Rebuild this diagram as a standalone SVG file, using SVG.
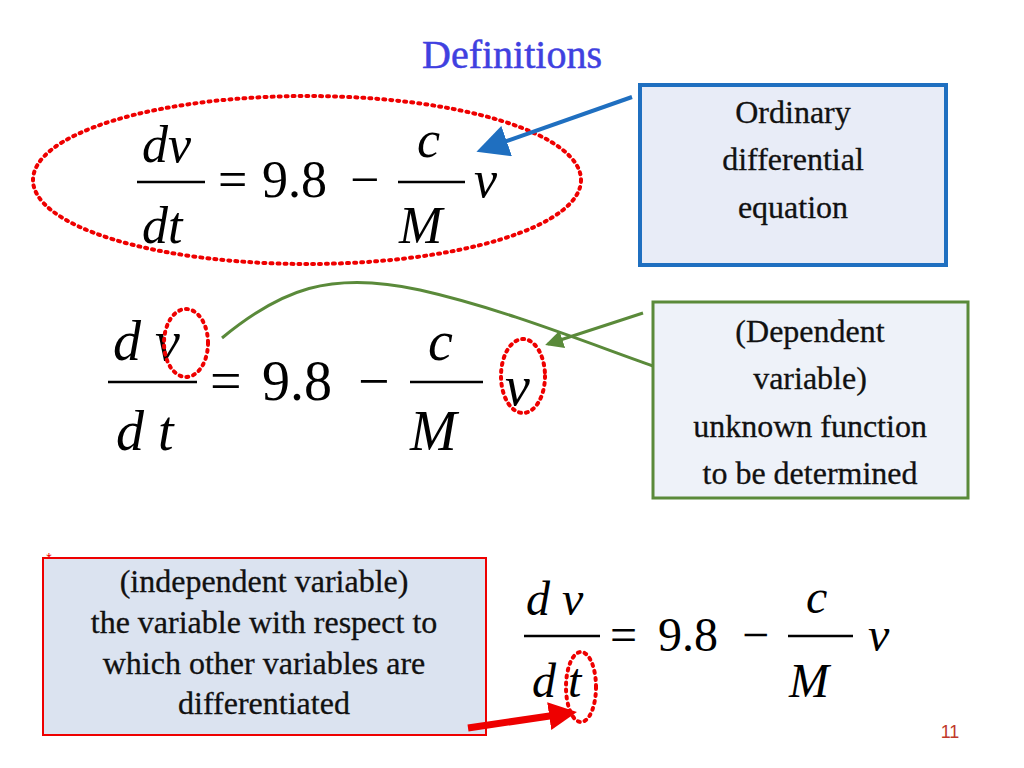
<svg xmlns="http://www.w3.org/2000/svg" width="1024" height="768" viewBox="0 0 1024 768">
<defs>
<style>
.m{font-family:"Liberation Serif",serif;font-style:italic;fill:#000}
.n{font-family:"Liberation Serif",serif;fill:#000}
.t{font-family:"Liberation Serif",serif;font-size:32px;fill:#111;text-anchor:middle;stroke:#111;stroke-width:0.3}
.dot{fill:none;stroke:#e00;stroke-width:4;stroke-dasharray:2 5;stroke-linecap:round}
.fl{stroke:#000;stroke-width:2.5}
</style>
<marker id="ab" markerWidth="8" markerHeight="8" refX="6" refY="4" orient="auto" markerUnits="strokeWidth"><path d="M0,0 L8,4 L0,8 Z" fill="#1f6fc0"/></marker>
<marker id="ag" markerWidth="6" markerHeight="6" refX="5" refY="3" orient="auto" markerUnits="strokeWidth"><path d="M0,0 L6,3 L0,6 Z" fill="#5a8a3a"/></marker>
<marker id="ar" markerWidth="4" markerHeight="4" refX="3" refY="2" orient="auto" markerUnits="strokeWidth"><path d="M0,0 L4,2 L0,4 Z" fill="#e00"/></marker>
</defs>
<rect width="1024" height="768" fill="#fff"/>
<text x="512" y="68" text-anchor="middle" font-family="Liberation Serif,serif" font-size="40" fill="#4040e0" stroke="#4040e0" stroke-width="0.5">Definitions</text>
<g id="eq1">
<ellipse class="dot" cx="307" cy="180" rx="274" ry="84"/>
<text class="m" x="142" y="162" font-size="52">dv</text>
<line class="fl" x1="137" y1="182" x2="205" y2="182"/>
<text class="m" x="142" y="243" font-size="52">dt</text>
<text class="n" x="218" y="197" font-size="52">=</text>
<text class="n" x="262" y="197" font-size="52">9.8</text>
<text class="n" x="350" y="197" font-size="52">−</text>
<text class="m" x="417" y="157" font-size="52">c</text>
<line class="fl" x1="398" y1="182" x2="465" y2="182"/>
<text class="m" x="399" y="243" font-size="52">M</text>
<text class="m" x="474" y="197" font-size="52">v</text>
</g>
<g id="eq2">
<text class="m" x="113" y="360" font-size="56">d v</text>
<line class="fl" x1="108" y1="382" x2="197" y2="382"/>
<text class="m" x="116" y="450" font-size="56">d t</text>
<text class="n" x="210" y="400" font-size="56">=</text>
<text class="n" x="262" y="400" font-size="56">9.8</text>
<text class="n" x="358" y="400" font-size="56">−</text>
<text class="m" x="428" y="360" font-size="56">c</text>
<line class="fl" x1="410" y1="382" x2="483" y2="382"/>
<text class="m" x="410" y="450" font-size="56">M</text>
<text class="m" x="505" y="405" font-size="56">v</text>
<ellipse class="dot" cx="186" cy="343" rx="22" ry="34"/>
<ellipse class="dot" cx="523" cy="376" rx="22" ry="37"/>
</g>
<g id="eq3">
<text class="m" x="526" y="615" font-size="48">d v</text>
<line class="fl" x1="524" y1="636" x2="600" y2="636"/>
<text class="m" x="532" y="697" font-size="48">d t</text>
<text class="n" x="610" y="651" font-size="48">=</text>
<text class="n" x="658" y="651" font-size="48">9.8</text>
<text class="n" x="742" y="651" font-size="48">−</text>
<text class="m" x="806" y="613" font-size="48">c</text>
<line class="fl" x1="788" y1="636" x2="853" y2="636"/>
<text class="m" x="789" y="697" font-size="48">M</text>
<text class="m" x="868" y="651" font-size="48">v</text>
<ellipse class="dot" cx="581" cy="687" rx="15" ry="35"/>
</g>
<g id="ode">
<rect x="640" y="85" width="306" height="180" fill="#e8ecf7" stroke="#1f6fc0" stroke-width="4"/>
<text class="t" x="793" y="123">Ordinary</text>
<text class="t" x="793" y="170">differential</text>
<text class="t" x="793" y="218">equation</text>
</g>
<g id="dep">
<rect x="653" y="302" width="315" height="196" fill="#eef2f9" stroke="#5a8a3a" stroke-width="3"/>
<text class="t" x="810" y="342">(Dependent</text>
<text class="t" x="810" y="389">variable)</text>
<text class="t" x="810" y="437">unknown function</text>
<text class="t" x="810" y="484">to be determined</text>
</g>
<g id="indep">
<rect x="43" y="558" width="443" height="177" fill="#dbe3f0" stroke="#e00" stroke-width="2"/>
<text x="49" y="563" font-family="Liberation Sans,sans-serif" font-size="14" fill="#e00" text-anchor="middle">*</text>
<text class="t" x="264" y="592">(independent variable)</text>
<text class="t" x="264" y="633">the variable with respect to</text>
<text class="t" x="264" y="674">which other variables are</text>
<text class="t" x="264" y="714">differentiated</text>
</g>
<g id="connectors" fill="none">
<line x1="632" y1="97" x2="484" y2="149" stroke="#1f6fc0" stroke-width="4" marker-end="url(#ab)"/>
<line x1="643" y1="313" x2="548" y2="344" stroke="#5a8a3a" stroke-width="3" marker-end="url(#ag)"/>
<path d="M222,338 C280,290 330,270 420,290 C500,308 580,340 653,366" stroke="#5a8a3a" stroke-width="3"/>
<line x1="468" y1="728" x2="570" y2="713" stroke="#e00" stroke-width="7" marker-end="url(#ar)"/>
</g>
<text x="950" y="738" text-anchor="middle" font-family="Liberation Sans,sans-serif" font-size="18" fill="#c0392b">11</text>
</svg>
